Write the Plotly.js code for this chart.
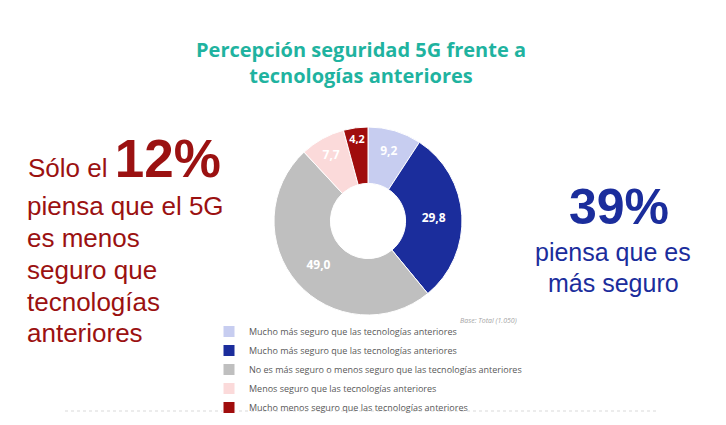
<!DOCTYPE html>
<html>
<head>
<meta charset="utf-8">
<script src="https://cdn.plot.ly/plotly-3.0.1.min.js"></script>
<style>html,body{margin:0;padding:0;background:#fff;}#chart{width:726px;height:425px;}</style>
</head>
<body>
<div id="chart"></div>
<script>
// Data
const categories = [
  "Mucho más seguro que las tecnologías anteriores",
  "Mucho más seguro que las tecnologías anteriores\u00a0",
  "No es más seguro o menos seguro que las tecnologías anteriores",
  "Menos seguro que las tecnologías anteriores",
  "Mucho menos seguro que las tecnologías anteriores"
];
const values = [9.2, 29.8, 49.0, 7.7, 4.2];
const colors = ["#c7cdf0", "#1b2d9c", "#bfbfbf", "#fbdada", "#a00d0d"];
const titleText = "Percepción seguridad 5G frente a<br>tecnologías anteriores";
const baseNote = "Base: Total (1.050)";
const leftHeadline = "12%";
const leftLines = ["piensa que el 5G", "es menos", "seguro que", "tecnologías", "anteriores"];
const rightHeadline = "39%";
const rightLines = ["piensa que es", "más seguro"];

const W = 726, H = 425;
const px = x => x / W;
const py = y => 1 - y / H;

const cx = 368, cy = 221, r = 94;

const trace = {
  type: "pie",
  labels: categories,
  values: values,
  sort: false,
  direction: "clockwise",
  rotation: 0,
  hole: 0.4,
  marker: {colors: colors, line: {color: "#ffffff", width: 1}},
  textinfo: "value",
  texttemplate: "%{value:.1f}",
  textposition: "inside",
  insidetextorientation: "horizontal",
  textfont: {family: "Open Sans, sans-serif", size: 12, color: "#ffffff", weight: "bold"},
  hoverinfo: "label+value",
  domain: {x: [px(cx - r), px(cx + r)], y: [py(cy + r), py(cy - r)]}
};

const redFont = {family: "Liberation Sans, Arial, sans-serif", size: 26, color: "#9b1111"};
const blueFont = {family: "Liberation Sans, Arial, sans-serif", size: 25, color: "#1b2d9c"};
const titleFont = {family: "Open Sans, sans-serif", size: 20, color: "#1fb3a0", weight: "bold"};

const annotations = [
  {xref: "paper", yref: "paper", x: px(361), y: py(62), xanchor: "center", yanchor: "middle",
   text: titleText, showarrow: false, align: "center", font: titleFont},
  {xref: "paper", yref: "paper", x: px(27), y: py(189), xanchor: "left", yanchor: "bottom",
   text: "Sólo el <b><span style='font-size:53px'>" + leftHeadline + "</span></b>",
   showarrow: false, align: "left", font: redFont, borderpad: 0},
  {xref: "paper", yref: "paper", x: px(619), y: py(207), xanchor: "center", yanchor: "middle",
   text: "<b>" + rightHeadline + "</b>", showarrow: false,
   font: {family: "Liberation Sans, Arial, sans-serif", size: 50, color: "#1b2d9c"}},
  {xref: "paper", yref: "paper", x: px(519), y: py(320), xanchor: "right", yanchor: "middle",
   text: "<i>" + baseNote + "</i>", showarrow: false,
   font: {family: "Open Sans, sans-serif", size: 7, color: "#a6a6a6"}}
];
const leftY = [206, 238, 270, 302, 333];
leftLines.forEach((t, i) => annotations.push({
  xref: "paper", yref: "paper", x: px(25), y: py(leftY[i]), xanchor: "left", yanchor: "middle",
  text: t, showarrow: false, font: redFont
}));
const rightY = [252, 283];
rightLines.forEach((t, i) => annotations.push({
  xref: "paper", yref: "paper", x: px(613), y: py(rightY[i]), xanchor: "center", yanchor: "middle",
  text: t, showarrow: false, font: blueFont
}));

const layout = {
  width: W, height: H,
  margin: {l: 0, r: 0, t: 0, b: 0},
  paper_bgcolor: "#ffffff",
  plot_bgcolor: "#ffffff",
  separators: ",.",
  showlegend: true,
  legend: {
    x: px(209), y: py(317), xanchor: "left", yanchor: "top",
    font: {family: "Open Sans, sans-serif", size: 9, color: "#595959"},
    bgcolor: "rgba(0,0,0,0)",
    tracegroupgap: 0,
    itemclick: false
  },
  annotations: annotations,
  shapes: [
    {type: "line", xref: "paper", yref: "paper", x0: px(65), x1: px(656), y0: py(411), y1: py(411),
     line: {color: "#d9d9d9", width: 1, dash: "dot"}}
  ]
};

Plotly.newPlot("chart", [trace], layout, {displayModeBar: false, staticPlot: true});
</script>
</body>
</html>
